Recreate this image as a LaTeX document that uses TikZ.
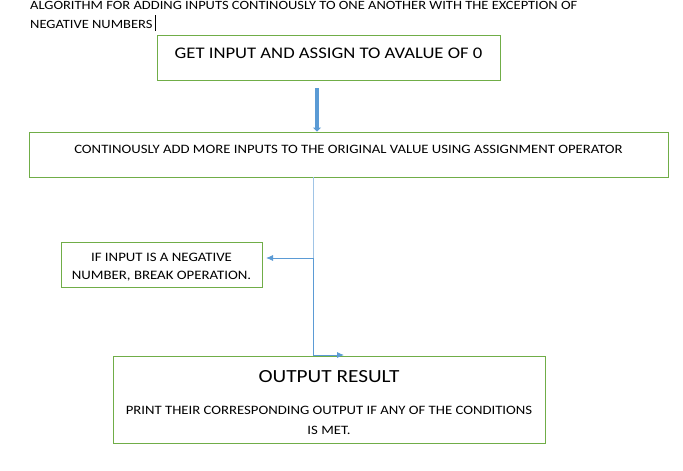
\documentclass[tikz,border=0pt]{standalone}
\usepackage{fontspec}
\setmainfont{Carlito}[FakeStretch=1.15]
\usetikzlibrary{arrows.meta, positioning}

\definecolor{boxgreen}{RGB}{112,173,71}
\definecolor{linkblue}{RGB}{91,155,213}
\definecolor{paleblue}{RGB}{160,196,230}

\begin{document}
\begin{tikzpicture}[
        x=1pt, y=-1pt,
        flowbox/.style={
            rectangle,
            draw=boxgreen,
            line width=0.9pt,
            align=center,
            inner sep=0pt
        },
        link/.style={
            -{Latex[length=7pt,width=6pt]},
            draw=linkblue,
            line width=0.9pt
        },
        bigarrow/.style={
            -{Triangle[length=4pt,width=8pt]},
            draw=linkblue,
            line width=4pt
        }
    ]
    \useasboundingbox (0,0) rectangle (683,471);

    % Heading
    \node[anchor=north west, align=left, font=\fontsize{12.6}{19}\selectfont, inner sep=0pt]
        (heading) at (30,1.5) {ALGORITHM FOR ADDING INPUTS CONTINOUSLY TO ONE ANOTHER WITH THE EXCEPTION OF\\NEGATIVE NUMBERS};
    \draw[black, line width=0.6pt] (155.5,15) -- (155.5,31);

    % Boxes
    \node[flowbox, minimum width=343pt, minimum height=45pt, text depth=9pt,
          font=\fontsize{16.2}{18}\selectfont] (getinput) at (328.5,57.5)
        {GET INPUT AND ASSIGN TO AVALUE OF 0};
    \node[flowbox, minimum width=639pt, minimum height=45pt, text depth=10pt,
          font=\fontsize{12.8}{13}\selectfont] (addinputs) at (348.5,154.5)
        {CONTINOUSLY ADD MORE INPUTS TO THE ORIGINAL VALUE USING ASSIGNMENT OPERATOR};
    \node[flowbox, minimum width=201pt, minimum height=45pt,
          font=\fontsize{12.9}{18}\selectfont] (negative) at (161.5,264.5)
        {\rule{0pt}{14.3pt}IF INPUT IS A NEGATIVE\\NUMBER, BREAK OPERATION.};
    \node[flowbox, minimum width=432pt, minimum height=87pt,
          font=\fontsize{12.8}{19.5}\selectfont] (output) at (329,399.5)
        {{\fontsize{18.5}{20}\selectfont\rule{0pt}{17.9pt}OUTPUT RESULT}\\[13pt]PRINT THEIR CORRESPONDING OUTPUT IF ANY OF THE CONDITIONS\\IS MET.};

    % Connectors
    \coordinate (split) at (313,258);
    \coordinate (corner) at (313,355);
    \coordinate (outin) at (344,355);
    \coordinate (negin) at (266,258);
    \coordinate (bigtop) at (317,88);

    \draw[bigarrow] (bigtop) -- (bigtop |- addinputs.north);
    \draw[paleblue, line width=0.9pt] (addinputs.south -| split) -- (split);
    \draw[link] (split) -- (negin);
    \draw[link] (split) -- (corner) -- (outin);

\end{tikzpicture}
\end{document}
